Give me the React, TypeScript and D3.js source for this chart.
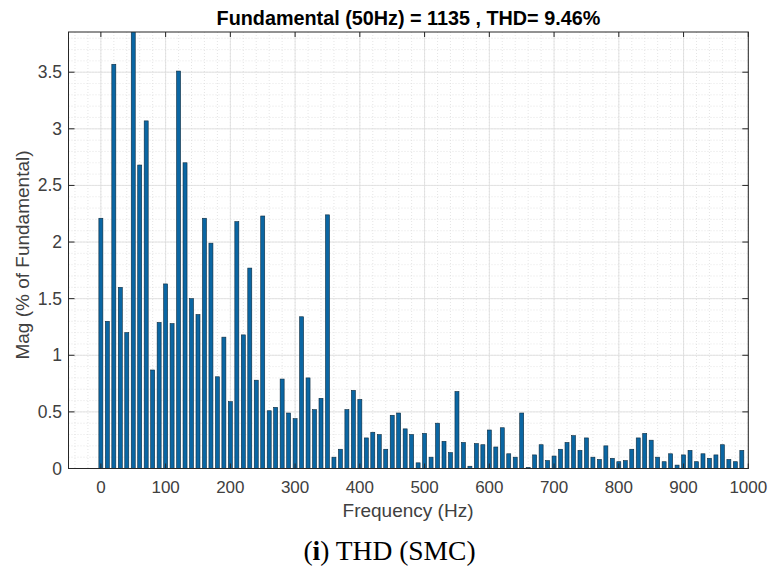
import * as d3 from "d3";

// harmonic spectrum, one bar every 10 Hz from 0 to 990 Hz (% of fundamental)
const freqStep = 10;
const magnitudes = [
  2.21, 1.3, 3.57, 1.6, 1.2, 3.9, 2.68, 3.07, 0.87, 1.29,
  1.63, 1.28, 3.51, 2.7, 1.5, 1.36, 2.21, 1.99, 0.81, 1.16,
  0.59, 2.18, 1.18, 1.77, 0.78, 2.23, 0.51, 0.54, 0.79, 0.49,
  0.44, 1.34, 0.8, 0.52, 0.62, 2.24, 0.1, 0.17, 0.52, 0.69,
  0.61, 0.27, 0.32, 0.3, 0.17, 0.47, 0.49, 0.35, 0.3, 0.05,
  0.31, 0.1, 0.4, 0.24, 0.14, 0.68, 0.23, 0.02, 0.22, 0.21,
  0.34, 0.19, 0.36, 0.13, 0.1, 0.49, 0.01, 0.12, 0.21, 0.07,
  0.11, 0.17, 0.23, 0.29, 0.16, 0.27, 0.1, 0.08, 0.2, 0.09,
  0.06, 0.07, 0.17, 0.27, 0.31, 0.25, 0.1, 0.06, 0.13, 0.03,
  0.12, 0.16, 0.06, 0.13, 0.09, 0.12, 0.21, 0.08, 0.06, 0.16,
];
const xTicks = [0, 100, 200, 300, 400, 500, 600, 700, 800, 900, 1000];
const yTicks = [0, 0.5, 1, 1.5, 2, 2.5, 3, 3.5];
const xMinor = d3.range(-40, 1001, 20);
const yMinor = d3.range(0, 3.86, 0.1);

const title = "Fundamental (50Hz) = 1135 , THD= 9.46%";
const xLabel = "Frequency (Hz)";
const yLabel = "Mag (% of Fundamental)";

const width = 777;
const height = 574;
const left = 68.5;
const right = 748.3;
const top = 32;
const bottom = 468.5;

export default function App() {
  const x = d3.scaleLinear().domain([-50, 1000]).range([left, right]);
  const y = d3.scaleLinear().domain([0, 3.855]).range([bottom, top]);
  const barW = 4;
  const axisColor = "#262626";
  const font = "'Liberation Sans', Arial, sans-serif";

  return (
    <div style={{ position: "absolute", left: 0, top: 0 }}>
      <svg width={width} height={height} style={{ display: "block", background: "#fff" }}>
        <defs>
          <clipPath id="plot-clip">
            <rect x={left} y={top} width={right - left} height={bottom - top} />
          </clipPath>
        </defs>
        <rect x={left} y={top} width={right - left} height={bottom - top} fill="#fff" />

        {/* minor grid */}
        {xMinor.map((v) => (
          <line key={`xm-${v}`} x1={x(v)} x2={x(v)} y1={top} y2={bottom}
            stroke="#d4d4d4" strokeWidth={0.6} strokeDasharray="1,2" />
        ))}
        {yMinor.map((v) => (
          <line key={`ym-${v.toFixed(1)}`} x1={left} x2={right} y1={y(v)} y2={y(v)}
            stroke="#d4d4d4" strokeWidth={0.6} strokeDasharray="1,2" />
        ))}
        {/* major grid */}
        {xTicks.map((v) => (
          <line key={`xg-${v}`} x1={x(v)} x2={x(v)} y1={top} y2={bottom} stroke="#dcdcdc" strokeWidth={0.8} />
        ))}
        {yTicks.map((v) => (
          <line key={`yg-${v}`} x1={left} x2={right} y1={y(v)} y2={y(v)} stroke="#dcdcdc" strokeWidth={0.8} />
        ))}

        <g clipPath="url(#plot-clip)">
          {magnitudes.map((m, i) => {
            const f = i * freqStep;
            return (
              <rect key={f} x={x(f) - barW / 2} y={y(m)} width={barW} height={y(0) - y(m)}
                fill="#0a66a3" stroke="#0d2a3d" strokeWidth={0.6} />
            );
          })}
        </g>

        {/* box and ticks */}
        <rect x={left} y={top} width={right - left} height={bottom - top} fill="none" stroke={axisColor} strokeWidth={1} />
        {xTicks.map((v) => (
          <g key={`xt-${v}`}>
            <line x1={x(v)} x2={x(v)} y1={bottom} y2={bottom - 5} stroke={axisColor} />
            <line x1={x(v)} x2={x(v)} y1={top} y2={top + 5} stroke={axisColor} />
            <text x={x(v)} y={493} textAnchor="middle" fontFamily={font} fontSize={17} fill="#404040">{v}</text>
          </g>
        ))}
        {yTicks.map((v) => (
          <g key={`yt-${v}`}>
            <line x1={left} x2={left + 6} y1={y(v)} y2={y(v)} stroke={axisColor} />
            <line x1={right} x2={right - 6} y1={y(v)} y2={y(v)} stroke={axisColor} />
            <text x={62} y={y(v) + 6} textAnchor="end" fontFamily={font} fontSize={17.5} fill="#404040">{v}</text>
          </g>
        ))}

        <text x={(left + right) / 2} y={25} textAnchor="middle" fontFamily={font} fontSize={19.8} fontWeight="bold" fill="#000">{title}</text>
        <text x={408} y={517} textAnchor="middle" fontFamily={font} fontSize={19} fill="#404040">{xLabel}</text>
        <text transform={`translate(29, 255) rotate(-90)`} textAnchor="middle" fontFamily={font} fontSize={19} fill="#404040">{yLabel}</text>

        <text x={389.5} y={560} textAnchor="middle" fontFamily="'Liberation Serif', 'DejaVu Serif', serif" fontSize={27.5} fill="#000">
          (<tspan fontWeight="bold">i</tspan>) THD (SMC)
        </text>
      </svg>
    </div>
  );
}
